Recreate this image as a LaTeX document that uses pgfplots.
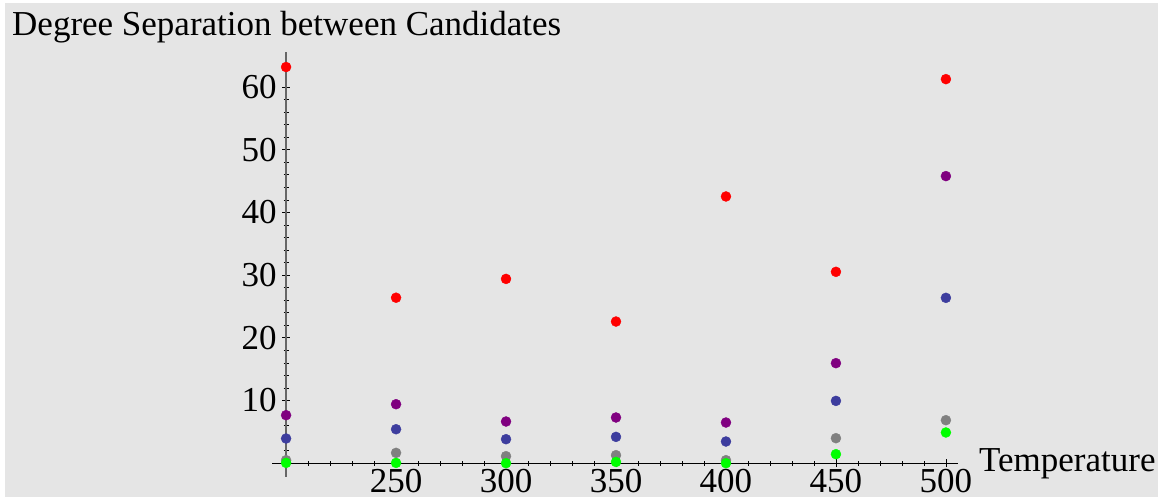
\documentclass[border=0pt]{standalone}
\usepackage{pgfplots}
\usepackage{pgfplotstable}
\pgfplotsset{compat=1.18}
\usepackage{fontspec}
\setmainfont{Liberation Serif}
\definecolor{bg}{RGB}{229,229,229}
\definecolor{cred}{RGB}{255,0,0}
\definecolor{cpurple}{RGB}{128,0,128}
\definecolor{cblue}{RGB}{61,61,158}
\definecolor{cgray}{RGB}{128,128,128}
\definecolor{cgreen}{RGB}{0,255,0}
\pgfplotstableread{
T red purple blue gray green
200 63.2 7.66 3.94 0.48 0.05
250 26.4 9.41 5.42 1.65 0.05
300 29.4 6.65 3.83 1.12 0.0
350 22.6 7.29 4.20 1.28 0.2
400 42.55 6.49 3.46 0.48 0.0
450 30.53 15.96 9.94 3.99 1.44
500 61.27 45.8 26.38 6.86 4.9
}\data
\begin{document}
\begin{tikzpicture}[x=1bp,y=1bp]
\fill[bg] (5,0) rectangle (1158,494);
\begin{axis}[
  at={(272bp,20bp)}, anchor=south west,
  scale only axis, width=686bp, height=425bp,
  xmin=-6.4, xmax=305.5, ymin=-2.2, ymax=65.6,
  axis lines=middle, axis line style={-},
  x axis line style={black, line width=1.2bp},
  y axis line style={black!60, line width=1.2bp},
  xtick={0,50,...,300}, xticklabels={,250,300,350,400,450,500},
  ytick={0,10,...,60}, yticklabels={,10,20,30,40,50,60},
  minor x tick num=4, minor y tick num=4,
  tick align=center, major tick length=8bp, minor tick length=5bp,
  tick style={black, line width=0.8bp},
  /pgf/number format/assume math mode=true,
  ticklabel style={font=\fontsize{35bp}{40bp}\selectfont, text=black},
  xticklabel style={anchor=north, yshift=2bp},
  yticklabel style={anchor=east, xshift=-2bp},
  clip=false,
  only marks,
]
\addplot[mark=*, mark size=5bp, cred, mark options={draw=none, fill=cred}] table[x expr=\thisrow{T}-200, y=red] {\data};
\addplot[mark=*, mark size=5bp, cpurple, mark options={draw=none, fill=cpurple}] table[x expr=\thisrow{T}-200, y=purple] {\data};
\addplot[mark=*, mark size=5bp, cblue, mark options={draw=none, fill=cblue}] table[x expr=\thisrow{T}-200, y=blue] {\data};
\addplot[mark=*, mark size=5bp, cgray, mark options={draw=none, fill=cgray}] table[x expr=\thisrow{T}-200, y=gray] {\data};
\addplot[mark=*, mark size=5bp, cgreen, mark options={draw=none, fill=cgreen}] table[x expr=\thisrow{T}-200, y=green] {\data};
\end{axis}
\node[anchor=base west, inner sep=0pt, font=\fontsize{35bp}{40bp}\selectfont] at (12,461) {Degree Separation between Candidates};
\node[anchor=base west, inner sep=0pt, font=\fontsize{35bp}{40bp}\selectfont] at (979,25) {Temperature};
\pgfresetboundingbox
\useasboundingbox (0,0) rectangle (1158,497);
\end{tikzpicture}
\end{document}
